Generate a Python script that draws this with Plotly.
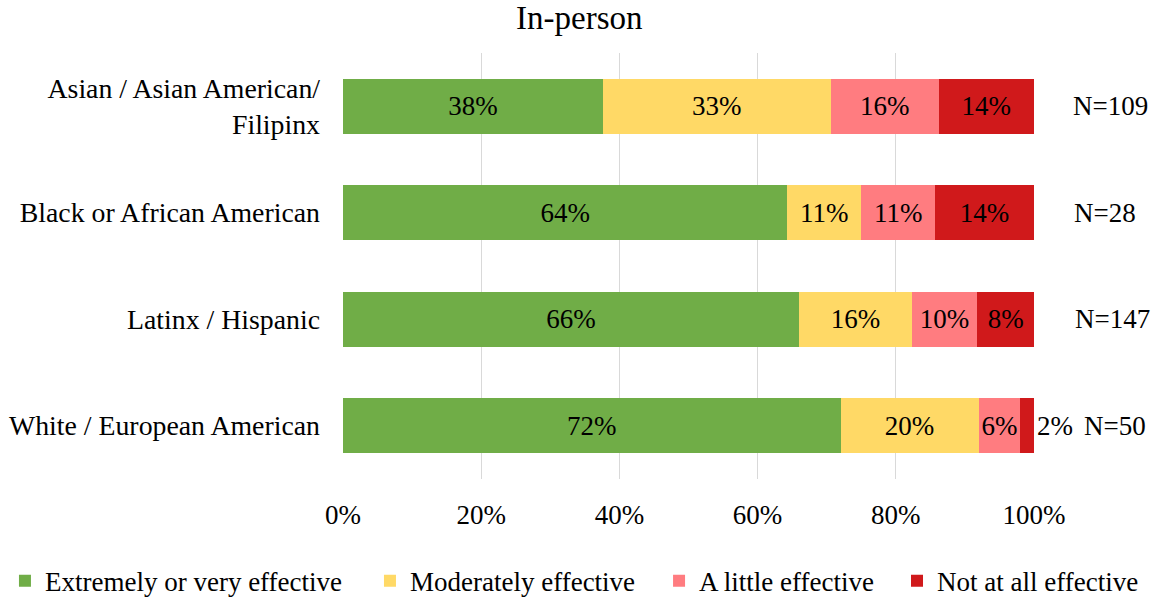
import plotly.graph_objects as go

groups = ["Asian / Asian American/<br>Filipinx", "Black or African American",
          "Latinx / Hispanic", "White / European American"]
n_labels = ["N=109", "N=28", "N=147", "N=50"]
series_names = ["Extremely or very effective", "Moderately effective",
                "A little effective", "Not at all effective"]
extremely = [37.6, 64.3, 66.0, 72.0]
moderately = [33.0, 10.7, 16.3, 20.0]
a_little = [15.6, 10.7, 9.5, 6.0]
not_at_all = [13.8, 14.3, 8.2, 2.0]
colors = ["#70AD47", "#FFD966", "#FF7C80", "#D0191B"]
x_ticks = [0, 20, 40, 60, 80, 100]
x_tick_text = ["0%", "20%", "40%", "60%", "80%", "100%"]

FONT = "Liberation Serif, Times New Roman, serif"
legend_ids = ["legend", "legend2", "legend3", "legend4"]
legend_x = [0.0043, 0.3206, 0.5711, 0.7773]

fig = go.Figure()
all_vals = [extremely, moderately, a_little, not_at_all]
for i, (name, vals, col, lid) in enumerate(zip(series_names, all_vals, colors, legend_ids)):
    if i == len(all_vals) - 1:
        pos = ["inside" if v >= 5 else "outside" for v in vals]
    else:
        pos = "inside"
    fig.add_trace(go.Bar(
        y=groups, x=vals, name=name, orientation="h",
        marker=dict(color=col, line=dict(width=0)),
        text=[f"{v:.0f}%" for v in vals],
        textposition=pos, insidetextanchor="middle", textangle=0,
        constraintext="none", cliponaxis=False,
        textfont=dict(family=FONT, size=27, color="black"),
        outsidetextfont=dict(family=FONT, size=27, color="black"),
        hoverinfo="x+name", legend=lid,
    ))

n_shift = [0, -5, 2, 5]
for g, nl, sh in zip(groups, n_labels, n_shift):
    fig.add_annotation(x=1.11, xref="paper", y=g, yref="y", text=nl,
                       showarrow=False, xanchor="center", xshift=sh,
                       font=dict(family=FONT, size=27, color="black"))

legend_common = dict(orientation="h", xanchor="left", yanchor="middle",
                     xref="container", yref="container", y=0.028,
                     font=dict(family=FONT, size=27, color="black"),
                     bgcolor="rgba(0,0,0,0)", itemwidth=30)

fig.update_layout(
    width=1154, height=598,
    barmode="stack", bargap=0.48,
    plot_bgcolor="white", paper_bgcolor="white",
    margin=dict(l=343, r=120, t=53, b=119, autoexpand=False),
    title=dict(text="In-person", x=0.502, xanchor="center", y=0.97, yanchor="middle",
               font=dict(family=FONT, size=33, color="black")),
    font=dict(family=FONT, size=27, color="black"),
    xaxis=dict(range=[0, 100], tickvals=x_ticks, ticktext=x_tick_text,
               showgrid=True, gridcolor="#D9D9D9", gridwidth=1, zeroline=False,
               showline=False, ticks="", ticklabelstandoff=17, automargin=False,
               tickfont=dict(family=FONT, size=27, color="black"), fixedrange=True),
    yaxis=dict(autorange="reversed", showgrid=False, showline=False, ticks="",
               ticklabelstandoff=22, automargin=False, fixedrange=True,
               tickfont=dict(family=FONT, size=27.8, color="black")),
    legend=dict(legend_common, x=legend_x[0]),
    legend2=dict(legend_common, x=legend_x[1]),
    legend3=dict(legend_common, x=legend_x[2]),
    legend4=dict(legend_common, x=legend_x[3]),
    showlegend=True,
)

fig.write_html("out.html", config={"displayModeBar": False},
               post_script="document.body.style.margin='0';")
